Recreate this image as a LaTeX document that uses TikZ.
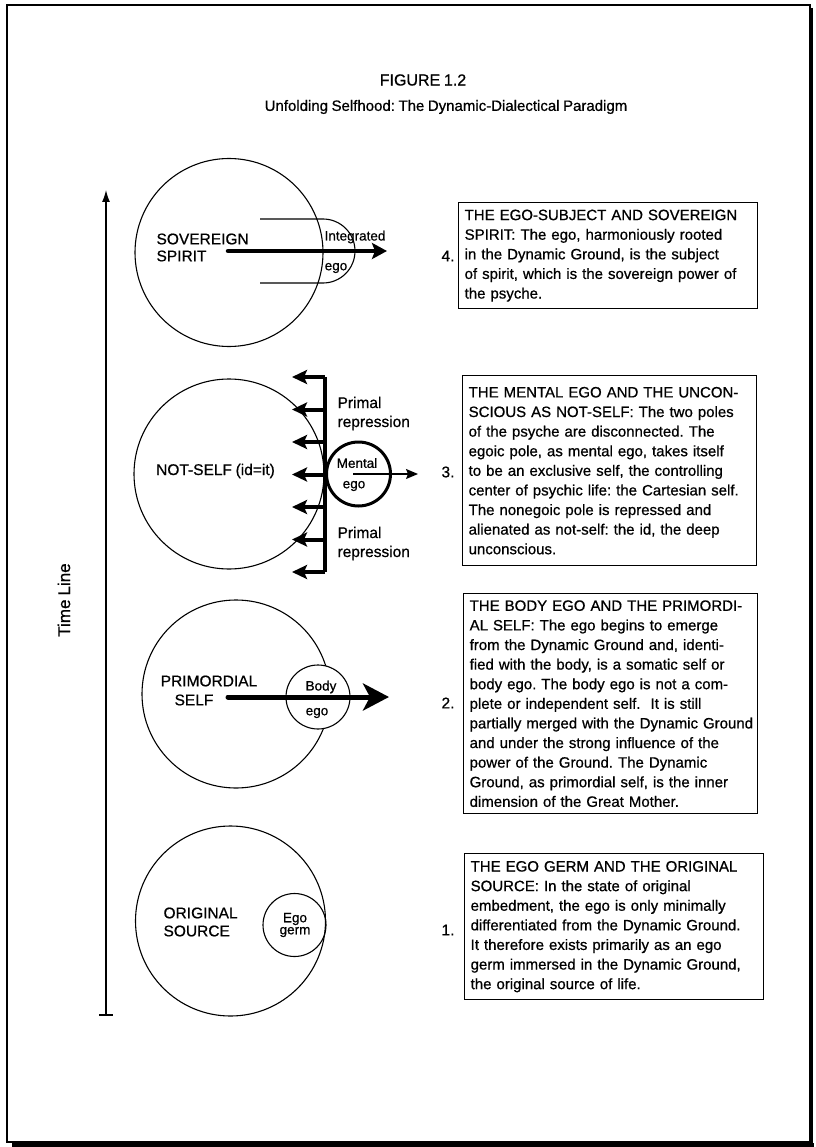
\documentclass[tikz,border=0pt]{standalone}
\usepackage{fontspec}
\setmainfont{Liberation Sans}[FakeBold=0.7,WordSpace=0.85]
\usetikzlibrary{arrows.meta}
\frenchspacing

\begin{document}
\begin{tikzpicture}[x=1pt,y=-1pt,line width=1.1pt,
  every node/.style={inner sep=1pt,font=\fontsize{15.5}{17}\selectfont},
  small/.style={font=\fontsize{13.5}{12}\selectfont},
  ground/.style={draw,circle,minimum size=#1},
  stagebox/.style 2 args={draw,line width=1.3pt,anchor=north west,align=left,
    inner xsep=6pt,inner ysep=4pt,text width=#1,minimum height=#2,
    font=\fontsize{15}{19.6}\selectfont},
  stagenum/.style={anchor=east,font=\fontsize{15.5}{17}\selectfont},
  spiritarrow/.style={line width=4.5pt,line cap=round,-{Stealth[length=15pt,width=16pt,inset=3pt]}},
  bodyarrow/.style={line width=5pt,line cap=round,-{Stealth[length=26pt,width=27pt,inset=7pt]}},
  pushback/.style={line width=4pt,-{Stealth[length=15pt,width=14pt,inset=3pt]}},
  egoarrow/.style={line width=1.2pt,-{Stealth[length=12pt,width=10pt,inset=2pt]}}]
\useasboundingbox (0,0) rectangle (815,1147);
% frame
\draw (7,5) rectangle (810,1142);
\draw[line width=4pt] (12,1145) -- (814,1145);
\draw[line width=2pt] (811.5,8) -- (811.5,1146);
\node[font=\fontsize{16}{18}\selectfont] (fig) at (423,80) {FIGURE 1.2};
\node[font=\fontsize{15}{18}\selectfont] (sub) at (446,107) {Unfolding Selfhood: The Dynamic-Dialectical Paradigm};
% time line
\coordinate (tbot) at (106,1015);
\coordinate (ttop) at (106,190);
\draw[line width=1.3pt,-{Latex[length=12pt,width=8pt]}] (tbot) -- (ttop);
\draw[line width=1.3pt] ([xshift=-7pt]tbot) -- ([xshift=7pt]tbot);
\node[rotate=90,font=\fontsize{17}{20}\selectfont] (tl) at (64,600) {Time Line};
% 4. sovereign spirit
\node[ground=188pt] (ground4) at (229,252.5) {};
\draw (260,219) -- (323,219) arc[start angle=-90,end angle=90,radius=32] -- (260,283);
\coordinate (a4s) at (228,251);
\coordinate (a4e) at (387,251);
\draw[spiritarrow] (a4s) -- (a4e);
\node[align=left,anchor=west] (spirit) at (155,247.5) {SOVEREIGN\\SPIRIT};
\node[small] (integ) at (355,237) {Integrated};
\node[small] (integego) at (336,268) {ego};
\node[stagenum] (n4) at (456,256) {4.};
\node[stagebox={287pt}{106pt}] (box4) at (458,202) {THE EGO-SUBJECT AND SOVEREIGN\\
SPIRIT: The ego, harmoniously rooted\\
in the Dynamic Ground, is the subject\\
of spirit, which is the sovereign power of\\
the psyche.};
% 3. not-self
\node[ground=190pt] (ground3) at (229,474) {};
\foreach \i in {0,...,6}{
  \coordinate (bar\i) at (325,377+32.5*\i);
  \coordinate (tip\i) at (292,377+32.5*\i);
  \draw[pushback] (bar\i) -- (tip\i);
}
\draw[line width=4pt] (bar0) -- (bar6);
\node[ground=64pt,line width=3pt] (mental) at (358.5,474) {};
\coordinate (m3s) at (353,474);
\coordinate (m3e) at (418,474);
\draw[egoarrow] (m3s) -- (m3e);
\node[small] (mentaltext) at (357,463) {Mental};
\node[small] (mentalego) at (354,486) {ego};
\node (notself) at (215.5,471) {NOT-SELF (id=it)};
\node[align=left,anchor=west,font=\fontsize{15.5}{19}\selectfont] (rep1) at (336,413.5) {Primal\\repression};
\node[align=left,anchor=west,font=\fontsize{15.5}{19}\selectfont] (rep2) at (336,543.5) {Primal\\repression};
\node[stagenum] (n3) at (456,472) {3.};
\node[stagebox={282pt}{190pt}] (box3) at (462,375) {THE MENTAL EGO AND THE UNCON-\\
SCIOUS AS NOT-SELF: The two poles\\
of the psyche are disconnected. The\\
egoic pole, as mental ego, takes itself\\
to be an exclusive self, the controlling\\
center of psychic life: the Cartesian self.\\
The nonegoic pole is repressed and\\
alienated as not-self: the id, the deep\\
unconscious.};
% 2. primordial self
\node[ground=188pt] (ground2) at (236,694) {};
\node[ground=64pt,fill=white] (body) at (318,697) {};
\coordinate (a2s) at (228,697);
\coordinate (a2e) at (389,697);
\draw[bodyarrow] (a2s) -- (a2e);
\node (prim1) at (209,681) {PRIMORDIAL};
\node (prim2) at (194,700) {SELF};
\node[small] (bodytext) at (321,687) {Body};
\node[small] (bodyego) at (317,713) {ego};
\node[stagenum] (n2) at (456,703) {2.};
\node[stagebox={282pt}{220pt}] (box2) at (463,593) {THE BODY EGO AND THE PRIMORDI-\\
AL SELF: The ego begins to emerge\\
from the Dynamic Ground and, identi-\\
fied with the body, is a somatic self or\\
body ego. The body ego is not a com-\\
plete or independent self.\ \ It is still\\
\mbox{partially merged with the Dynamic Ground}\\
and under the strong influence of the\\
power of the Ground. The Dynamic\\
Ground, as primordial self, is the inner\\
dimension of the Great Mother.};
% 1. original source
\node[ground=190pt] (ground1) at (230.5,921) {};
\node[ground=63pt] (germ) at (294.5,925) {};
\node[align=left,anchor=west,font=\fontsize{15.5}{18}\selectfont] (source) at (162,922) {ORIGINAL\\SOURCE};
\node[small,align=center] (germtext) at (295,925) {Ego\\germ};
\node[stagenum] (n1) at (456,930) {1.};
\node[stagebox={287pt}{146pt}] (box1) at (464,853) {THE EGO GERM AND THE ORIGINAL\\
SOURCE: In the state of original\\
embedment, the ego is only minimally\\
differentiated from the Dynamic Ground.\\
It therefore exists primarily as an ego\\
germ immersed in the Dynamic Ground,\\
the original source of life.};
\end{tikzpicture}
\end{document}
